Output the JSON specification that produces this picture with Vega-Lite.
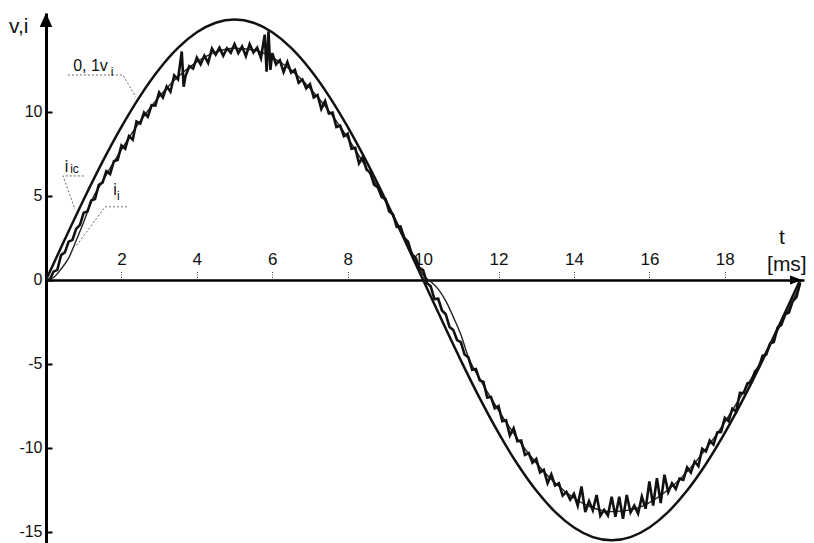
{
  "$schema": "https://vega.github.io/schema/vega-lite/v6.json",
  "width": 758,
  "height": 530,
  "autosize": {"type": "none"},
  "padding": {"left": 46, "top": 13, "right": 10, "bottom": 0},
  "background": "white",
  "config": {"view": {"stroke": null}, "font": "Liberation Sans"},
  "datasets": {
    "v": [
      {"t":0,"val":0},{"t":0.5,"val":2.42},{"t":1,"val":4.79},{"t":1.5,"val":7.04},{"t":2,"val":9.11},{"t":2.5,"val":10.96},{"t":3,"val":12.54},{"t":3.5,"val":13.81},{"t":4,"val":14.74},{"t":4.5,"val":15.31},{"t":5,"val":15.5},{"t":5.5,"val":15.31},{"t":6,"val":14.74},{"t":6.5,"val":13.81},{"t":7,"val":12.54},{"t":7.5,"val":10.96},{"t":8,"val":9.11},{"t":8.5,"val":7.04},{"t":9,"val":4.79},{"t":9.5,"val":2.42},{"t":10,"val":0},{"t":10.5,"val":-2.42},{"t":11,"val":-4.79},{"t":11.5,"val":-7.04},{"t":12,"val":-9.11},{"t":12.5,"val":-10.96},{"t":13,"val":-12.54},{"t":13.5,"val":-13.81},{"t":14,"val":-14.74},{"t":14.5,"val":-15.31},{"t":15,"val":-15.5},{"t":15.5,"val":-15.31},{"t":16,"val":-14.74},{"t":16.5,"val":-13.81},{"t":17,"val":-12.54},{"t":17.5,"val":-10.96},{"t":18,"val":-9.11},{"t":18.5,"val":-7.04},{"t":19,"val":-4.79},{"t":19.5,"val":-2.42},{"t":20,"val":0}
    ],
    "ii": [
      {"t":0,"val":0},{"t":0.2,"val":0.15},{"t":0.4,"val":0.65},{"t":0.6,"val":1.3},{"t":0.8,"val":2.35},{"t":1.0,"val":3.45},{"t":1.2,"val":4.67},{"t":1.5,"val":5.88},{"t":2,"val":7.76},{"t":2.5,"val":9.45},{"t":3,"val":10.9},{"t":3.5,"val":12.09},{"t":4,"val":12.98},{"t":4.5,"val":13.56},{"t":5,"val":13.79},{"t":5.5,"val":13.69},{"t":6,"val":13.25},{"t":6.5,"val":12.49},{"t":7,"val":11.41},{"t":7.5,"val":10.06},{"t":8,"val":8.46},{"t":8.5,"val":6.65},{"t":9,"val":4.67},{"t":9.5,"val":2.59},{"t":9.8,"val":1.2},{"t":10.0,"val":0.3},{"t":10.2,"val":-0.1},{"t":10.4,"val":-0.55},{"t":10.6,"val":-1.25},{"t":10.8,"val":-2.2},{"t":11.0,"val":-3.25},{"t":11.2,"val":-4.6},{"t":11.5,"val":-5.88},{"t":12,"val":-7.76},{"t":12.5,"val":-9.45},{"t":13,"val":-10.9},{"t":13.5,"val":-12.09},{"t":14,"val":-12.98},{"t":14.5,"val":-13.56},{"t":15,"val":-13.79},{"t":15.5,"val":-13.69},{"t":16,"val":-13.25},{"t":16.5,"val":-12.49},{"t":17,"val":-11.41},{"t":17.5,"val":-10.06},{"t":18,"val":-8.46},{"t":18.5,"val":-6.65},{"t":19,"val":-4.67},{"t":19.5,"val":-2.59},{"t":20,"val":-0.3}
    ],
    "iic": [
      {"t":0,"val":0},{"t":0.1,"val":0.02},{"t":0.2,"val":0.49},{"t":0.3,"val":0.6},{"t":0.4,"val":1.48},{"t":0.5,"val":1.64},{"t":0.6,"val":2.28},{"t":0.7,"val":2.38},{"t":0.8,"val":3.04},{"t":0.9,"val":3.28},
      {"t":1.0,"val":4.0},{"t":1.1,"val":4.08},{"t":1.2,"val":4.73},{"t":1.3,"val":4.81},{"t":1.4,"val":5.66},{"t":1.5,"val":5.79},{"t":1.6,"val":6.47},{"t":1.7,"val":6.3},{"t":1.8,"val":7.07},{"t":1.9,"val":7.14},
      {"t":2.0,"val":8.01},{"t":2.1,"val":7.81},{"t":2.2,"val":8.56},{"t":2.3,"val":8.35},{"t":2.4,"val":9.43},{"t":2.5,"val":9.3},{"t":2.6,"val":9.96},{"t":2.7,"val":9.71},{"t":2.8,"val":10.4},{"t":2.9,"val":10.38},
      {"t":3.0,"val":11.16},{"t":3.1,"val":10.86},{"t":3.2,"val":11.51},{"t":3.3,"val":11.2},{"t":3.4,"val":12.18},{"t":3.5,"val":11.94},{"t":3.6,"val":13.6},{"t":3.65,"val":11.5},{"t":3.7,"val":12.14},{"t":3.8,"val":12.72},{"t":3.9,"val":12.58},
      {"t":4.0,"val":13.23},{"t":4.1,"val":12.83},{"t":4.2,"val":13.35},{"t":4.3,"val":12.92},{"t":4.4,"val":13.77},{"t":4.5,"val":13.41},{"t":4.6,"val":13.83},{"t":4.7,"val":13.34},{"t":4.8,"val":13.79},{"t":4.9,"val":13.52},
      {"t":5.0,"val":14.04},{"t":5.1,"val":13.5},{"t":5.2,"val":13.89},{"t":5.3,"val":13.32},{"t":5.4,"val":14.04},{"t":5.5,"val":13.54},{"t":5.6,"val":13.83},{"t":5.7,"val":13.21},{"t":5.8,"val":14.6},{"t":5.85,"val":12.4},{"t":5.9,"val":14.8},{"t":5.95,"val":12.5},
      {"t":6.0,"val":13.5},{"t":6.1,"val":12.83},{"t":6.2,"val":13.08},{"t":6.3,"val":12.38},{"t":6.4,"val":12.97},{"t":6.5,"val":12.34},{"t":6.6,"val":12.5},{"t":6.7,"val":11.74},{"t":6.8,"val":11.93},{"t":6.9,"val":11.4},
      {"t":7.0,"val":11.66},{"t":7.1,"val":10.86},{"t":7.2,"val":11.01},{"t":7.3,"val":10.18},{"t":7.4,"val":10.65},{"t":7.5,"val":9.91},{"t":7.6,"val":9.96},{"t":7.7,"val":9.1},{"t":7.8,"val":9.18},{"t":7.9,"val":8.55},
      {"t":8.0,"val":8.71},{"t":8.1,"val":7.81},{"t":8.2,"val":7.86},{"t":8.3,"val":6.94},{"t":8.4,"val":7.32},{"t":8.5,"val":6.56},{"t":8.6,"val":6.39},{"t":8.7,"val":5.67},{"t":8.8,"val":5.51},{"t":8.9,"val":4.93},
      {"t":9.0,"val":4.82},{"t":9.1,"val":4.08},{"t":9.2,"val":3.91},{"t":9.3,"val":3.16},{"t":9.4,"val":3.19},{"t":9.5,"val":2.5},{"t":9.6,"val":2.28},{"t":9.7,"val":1.52},{"t":9.8,"val":1.33},{"t":9.9,"val":0.72},
      {"t":10.0,"val":0.58},{"t":10.1,"val":-0.18},{"t":10.2,"val":-0.37},{"t":10.3,"val":-1.14},{"t":10.4,"val":-1.12},{"t":10.5,"val":-1.82},{"t":10.6,"val":-2.04},{"t":10.7,"val":-2.8},{"t":10.8,"val":-2.98},{"t":10.9,"val":-3.58},
      {"t":11.0,"val":-3.7},{"t":11.1,"val":-4.44},{"t":11.2,"val":-4.61},{"t":11.3,"val":-5.35},{"t":11.4,"val":-5.3},{"t":11.5,"val":-5.97},{"t":11.6,"val":-6.07},{"t":11.7,"val":-7.0},{"t":11.8,"val":-6.97},{"t":11.9,"val":-7.64},
      {"t":12.0,"val":-7.51},{"t":12.1,"val":-8.41},{"t":12.2,"val":-8.36},{"t":12.3,"val":-9.25},{"t":12.4,"val":-8.83},{"t":12.5,"val":-9.6},{"t":12.6,"val":-9.56},{"t":12.7,"val":-10.41},{"t":12.8,"val":-10.3},{"t":12.9,"val":-10.88},
      {"t":13.0,"val":-10.66},{"t":13.1,"val":-11.46},{"t":13.2,"val":-11.31},{"t":13.3,"val":-12.1},{"t":13.4,"val":-11.58},{"t":13.5,"val":-12.24},{"t":13.6,"val":-12.1},{"t":13.7,"val":-12.84},{"t":13.8,"val":-12.62},{"t":13.9,"val":-13.08},
      {"t":14.0,"val":-12.73},{"t":14.1,"val":-13.43},{"t":14.2,"val":-12.3},{"t":14.3,"val":-13.82},{"t":14.4,"val":-13.17},{"t":14.5,"val":-13.71},{"t":14.6,"val":-12.8},{"t":14.7,"val":-14.04},{"t":14.8,"val":-13.69},{"t":14.9,"val":-14.02},
      {"t":15.0,"val":-12.9},{"t":15.1,"val":-14.1},{"t":15.2,"val":-12.9},{"t":15.3,"val":-14.22},{"t":15.4,"val":-12.8},{"t":15.5,"val":-13.84},{"t":15.6,"val":-13.43},{"t":15.7,"val":-13.91},{"t":15.8,"val":-12.9},{"t":15.9,"val":-13.62},
      {"t":16.0,"val":-12.0},{"t":16.1,"val":-13.43},{"t":16.2,"val":-11.8},{"t":16.3,"val":-13.28},{"t":16.4,"val":-11.6},{"t":16.5,"val":-12.64},{"t":16.6,"val":-12.1},{"t":16.7,"val":-12.44},{"t":16.8,"val":-11.83},{"t":16.9,"val":-11.9},
      {"t":17.0,"val":-11.16},{"t":17.1,"val":-11.46},{"t":17.2,"val":-10.81},{"t":17.3,"val":-11.08},{"t":17.4,"val":-10.05},{"t":17.5,"val":-10.21},{"t":17.6,"val":-9.56},{"t":17.7,"val":-9.8},{"t":17.8,"val":-9.08},{"t":17.9,"val":-9.05},
      {"t":18.0,"val":-8.21},{"t":18.1,"val":-8.41},{"t":18.2,"val":-7.66},{"t":18.3,"val":-7.84},{"t":18.4,"val":-6.72},{"t":18.5,"val":-6.74},{"t":18.6,"val":-6.15},{"t":18.7,"val":-6.09},{"t":18.8,"val":-5.45},{"t":18.9,"val":-5.23},
      {"t":19.0,"val":-4.52},{"t":19.1,"val":-4.44},{"t":19.2,"val":-3.79},{"t":19.3,"val":-3.7},{"t":19.4,"val":-2.83},{"t":19.5,"val":-2.68},{"t":19.6,"val":-2.04},{"t":19.7,"val":-1.94},{"t":19.8,"val":-1.27},{"t":19.9,"val":-1.02},{"t":20.0,"val":-0.15}
    ],
    "leaders": [
      {"g":"v","o":1,"t":0.58,"val":12.2},{"g":"v","o":2,"t":2.04,"val":12.2},{"g":"v","o":3,"t":2.38,"val":10.9},
      {"g":"ic","o":1,"t":1.0,"val":6.19},{"g":"ic","o":2,"t":0.45,"val":6.19},{"g":"ic","o":3,"t":0.77,"val":4.2},
      {"g":"ii","o":1,"t":2.15,"val":4.35},{"g":"ii","o":2,"t":1.565,"val":4.35},{"g":"ii","o":3,"t":0.8,"val":2.02}
    ],
    "mainlabels": [
      {"t":0.72,"val":12.44,"txt":"0, 1v"},
      {"t":0.5,"val":6.43,"txt":"i"},
      {"t":1.78,"val":5.06,"txt":"i"}
    ],
    "sublabels": [
      {"t":1.72,"val":12.14,"txt":"i"},
      {"t":0.64,"val":6.36,"txt":"ic"},
      {"t":1.88,"val":4.76,"txt":"i"}
    ],
    "axislabels": [
      {"t":-0.98,"val":14.7,"txt":"v,i"},
      {"t":19.44,"val":2.14,"txt":"t"},
      {"t":19.12,"val":0.54,"txt":"[ms]"}
    ],
    "arrowx": [{"t":19.89,"val":0}],
    "arrowy": [{"t":0,"val":15.48}]
  },
  "encoding": {
    "x": {
      "field": "t", "type": "quantitative",
      "scale": {"domain": [0, 20.1], "nice": false, "zero": false},
      "axis": {
        "orient": "top", "offset": -267, "values": [2,4,6,8,10,12,14,16,18],
        "title": null, "grid": false,
        "domainColor": "#000", "domainWidth": 2.5,
        "tickColor": "#444", "tickWidth": 1, "tickDash": [1, 1.5], "tickSize": 10,
        "labelFont": "Liberation Sans", "labelFontSize": 17, "labelColor": "#111",
        "labelPadding": 6, "labelBaseline": "alphabetic", "labelFlush": false, "labelOverlap": false
      }
    },
    "y": {
      "field": "val", "type": "quantitative",
      "scale": {"domain": [-15.66, 15.89], "nice": false, "zero": false},
      "axis": {
        "orient": "left", "values": [-15,-10,-5,0,5,10],
        "title": null, "grid": false,
        "domainColor": "#000", "domainWidth": 3,
        "tickColor": "#000", "tickWidth": 2, "tickSize": -6,
        "labelFont": "Liberation Sans", "labelFontSize": 16, "labelColor": "#111",
        "labelPadding": 10, "labelExpr": "'' + datum.value", "labelOverlap": false
      }
    }
  },
  "layer": [
    {
      "data": {"name": "v"},
      "mark": {"type": "line", "interpolate": "monotone", "color": "#111", "strokeWidth": 2.5}
    },
    {
      "data": {"name": "ii"},
      "mark": {"type": "line", "interpolate": "monotone", "color": "#222", "strokeWidth": 1.4}
    },
    {
      "data": {"name": "iic"},
      "mark": {"type": "line", "interpolate": "linear", "color": "#111", "strokeWidth": 2.6}
    },
    {
      "data": {"name": "leaders"},
      "mark": {"type": "line", "interpolate": "linear", "color": "#666", "strokeWidth": 1, "strokeDash": [2, 2]},
      "encoding": {"detail": {"field": "g"}, "order": {"field": "o", "type": "quantitative"}}
    },
    {
      "data": {"name": "mainlabels"},
      "mark": {"type": "text", "align": "left", "baseline": "alphabetic", "font": "Liberation Sans", "fontSize": 16, "color": "#111"},
      "encoding": {"text": {"field": "txt"}}
    },
    {
      "data": {"name": "sublabels"},
      "mark": {"type": "text", "align": "left", "baseline": "alphabetic", "font": "Liberation Sans", "fontSize": 12, "color": "#111"},
      "encoding": {"text": {"field": "txt"}}
    },
    {
      "data": {"name": "axislabels"},
      "mark": {"type": "text", "align": "left", "baseline": "alphabetic", "font": "Liberation Sans", "fontSize": 21, "color": "#111"},
      "encoding": {"text": {"field": "txt"}}
    },
    {
      "data": {"name": "arrowx"},
      "mark": {"type": "point", "shape": "M1,0L-1,-0.75L-1,0.75Z", "size": 144, "filled": true, "color": "#000", "opacity": 1, "strokeWidth": 0}
    },
    {
      "data": {"name": "arrowy"},
      "mark": {"type": "point", "shape": "M0,-1L-0.9,1L0.9,1Z", "size": 196, "filled": true, "color": "#000", "opacity": 1, "strokeWidth": 0}
    }
  ]
}
